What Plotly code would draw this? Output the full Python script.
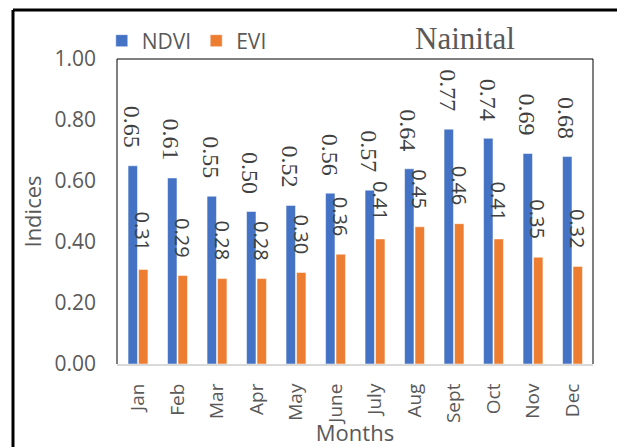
import plotly.graph_objects as go

months = ["Jan", "Feb", "Mar", "Apr", "May", "June", "July", "Aug", "Sept", "Oct", "Nov", "Dec"]
ndvi = [0.65, 0.61, 0.55, 0.50, 0.52, 0.56, 0.57, 0.64, 0.77, 0.74, 0.69, 0.68]
evi = [0.31, 0.29, 0.28, 0.28, 0.30, 0.36, 0.41, 0.45, 0.46, 0.41, 0.35, 0.32]
y_ticks = [0.0, 0.2, 0.4, 0.6, 0.8, 1.0]

BLUE = "#4472C4"
ORANGE = "#ED7D31"
GREY = "#595959"
SANS = "Open Sans"
SERIF = "Liberation Serif, Times New Roman, serif"

fig = go.Figure()
fig.add_trace(go.Bar(name="NDVI", x=months, y=ndvi, marker=dict(color=BLUE, line=dict(color="white", width=0.5))))
fig.add_trace(go.Bar(name="EVI", x=months, y=evi, marker=dict(color=ORANGE, line=dict(color="white", width=0.5))))

# rotated value labels above each bar (Excel style)
annotations = []
for m, v in zip(months, ndvi):
    annotations.append(dict(x=m, y=v, xref="x", yref="y", text=f"{v:.2f}", textangle=90,
                            showarrow=False, xanchor="center", yanchor="bottom",
                            xshift=-6, yshift=16, font=dict(family=SERIF, size=24, color="#404040")))
for m, v in zip(months, evi):
    annotations.append(dict(x=m, y=v, xref="x", yref="y", text=f"{v:.2f}", textangle=90,
                            showarrow=False, xanchor="center", yanchor="bottom",
                            xshift=5, yshift=16, font=dict(family=SANS, size=20, color="#404040")))

# plot-area frame (top, left, right) and outer chart frame
shapes = [
    dict(type="line", xref="paper", yref="paper", x0=0, x1=1, y0=1, y1=1, line=dict(color="black", width=1)),
    dict(type="line", xref="paper", yref="paper", x0=0, x1=0, y0=0, y1=1, line=dict(color="black", width=1)),
    dict(type="line", xref="paper", yref="paper", x0=1, x1=1, y0=0, y1=1, line=dict(color="black", width=1)),
    dict(type="line", xref="paper", yref="paper", x0=-0.2185, x1=1.1, y0=1.1607, y1=1.1607,
         line=dict(color="black", width=3)),
    dict(type="line", xref="paper", yref="paper", x0=-0.2185, x1=-0.2185, y0=-0.3, y1=1.1607,
         line=dict(color="black", width=3)),
]

fig.update_layout(
    width=617, height=447,
    margin=dict(l=117, r=24, t=59, b=83),
    paper_bgcolor="white", plot_bgcolor="white",
    barmode="group", bargap=0.47, bargroupgap=0.1,
    font=dict(family=SANS, color=GREY),
    title=dict(text="Nainital", font=dict(family=SERIF, size=31, color=GREY),
               xref="paper", x=0.731, xanchor="center", yref="container", y=0.915, yanchor="middle"),
    legend=dict(orientation="h", x=-0.032, xanchor="left", y=1.059, yanchor="middle",
                font=dict(family=SANS, size=21, color=GREY), bgcolor="rgba(0,0,0,0)"),
    annotations=annotations,
    shapes=shapes,
    showlegend=True,
)
fig.update_xaxes(showline=True, linecolor="#D9D9D9", linewidth=2, tickangle=-90,
                 tickfont=dict(size=19, color=GREY), ticklabelstandoff=10,
                 title=dict(text="Months", font=dict(size=22, color=GREY), standoff=2),
                 showgrid=False, automargin=False)
fig.update_yaxes(range=[0, 1], tickvals=y_ticks, tickformat=".2f", showgrid=False, zeroline=False,
                 showline=False, tickfont=dict(size=21, color=GREY), ticklabelstandoff=20,
                 title=dict(text="Indices", font=dict(size=22, color=GREY), standoff=6),
                 automargin=False)

fig.write_html("out.html", config={"displayModeBar": False},
               post_script="document.body.style.margin='0';")
